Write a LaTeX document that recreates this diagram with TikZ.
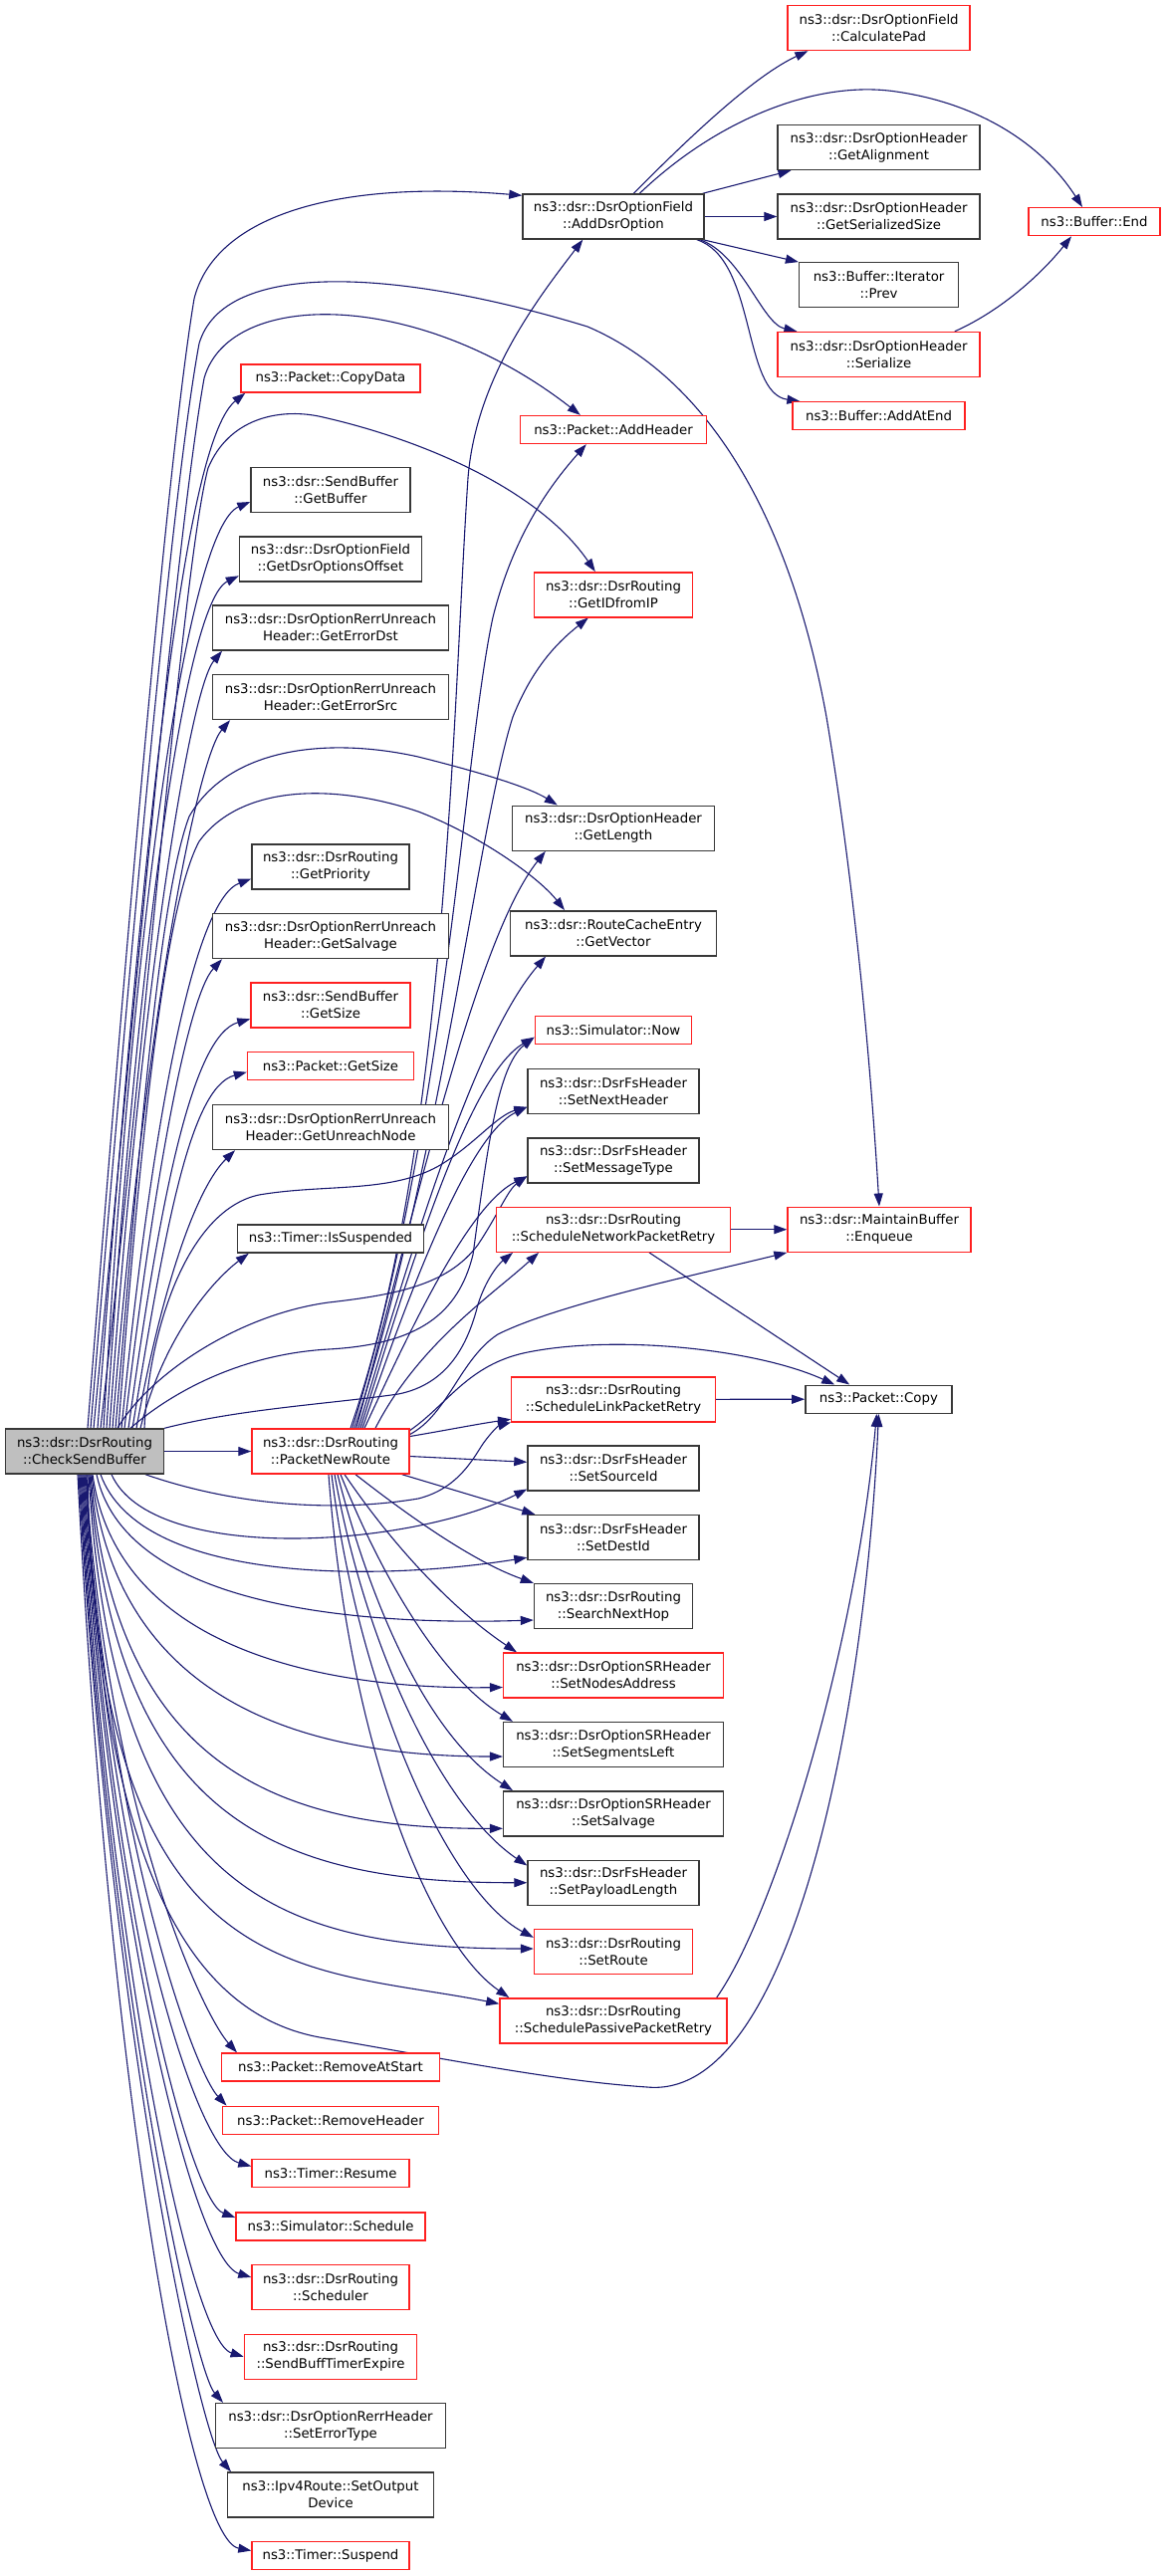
\documentclass[tikz,border=0pt]{standalone}
\usepackage{fontspec}
\setmainfont{DejaVu Sans}
\usetikzlibrary{arrows.meta}
\definecolor{edgecol}{HTML}{191970}
\definecolor{redb}{HTML}{FF2020}
\definecolor{blackb}{HTML}{383838}
\definecolor{greyfill}{HTML}{BFBFBF}
\pgfdeclarelayer{bg}
\pgfsetlayers{bg,main}
\newcommand\nd[7]{\node[#6, minimum width=#4pt, minimum height=#5pt] (#1) at (#2,-#3) {#7};}
\begin{document}
\begin{tikzpicture}[x=1pt,y=1pt,
  font=\fontsize{13.3}{17}\selectfont,
  box/.style={rectangle, draw=blackb, line width=1.4pt, inner sep=0pt, align=center, fill=white},
  rbox/.style={box, draw=redb},
  gbox/.style={box, fill=greyfill},
  e/.style={draw=edgecol, line width=1.1pt, -{Triangle[length=13pt,width=9pt]}}]
\begin{pgfonlayer}{bg}
\fill[white] (0,0) rectangle (1171,-2587);
\end{pgfonlayer}
\useasboundingbox (0,0) rectangle (1171,-2587);
% ---------- nodes ----------
\nd{root}{85}{1457.5}{159}{45}{gbox}{ns3::dsr::DsrRouting\\::CheckSendBuffer}
\nd{pnr}{332}{1457.5}{158}{45}{rbox}{ns3::dsr::DsrRouting\\::PacketNewRoute}
% left column
\nd{copydata}{332}{380}{180}{28}{rbox}{ns3::Packet::CopyData}
\nd{getbuffer}{332}{492}{160}{45}{box}{ns3::dsr::SendBuffer\\::GetBuffer}
\nd{getdsroff}{332}{561.3}{183}{45}{box}{ns3::dsr::DsrOptionField\\::GetDsrOptionsOffset}
\nd{errdst}{332}{630.5}{236.5}{45}{box}{ns3::dsr::DsrOptionRerrUnreach\\Header::GetErrorDst}
\nd{errsrc}{332}{700}{236.5}{45}{box}{ns3::dsr::DsrOptionRerrUnreach\\Header::GetErrorSrc}
\nd{getprio}{332}{870.5}{158}{45}{box}{ns3::dsr::DsrRouting\\::GetPriority}
\nd{getsalv}{332}{940}{236.5}{45}{box}{ns3::dsr::DsrOptionRerrUnreach\\Header::GetSalvage}
\nd{sbgetsize}{332}{1009.3}{160}{45}{rbox}{ns3::dsr::SendBuffer\\::GetSize}
\nd{pgetsize}{332}{1070.7}{167}{28}{rbox}{ns3::Packet::GetSize}
\nd{unreach}{332}{1132}{236.5}{45}{box}{ns3::dsr::DsrOptionRerrUnreach\\Header::GetUnreachNode}
\nd{issusp}{332}{1244}{187}{28}{box}{ns3::Timer::IsSuspended}
\nd{rmstart}{332}{2076}{218.6}{28}{rbox}{ns3::Packet::RemoveAtStart}
\nd{rmhdr}{332}{2129.3}{217.5}{28}{rbox}{ns3::Packet::RemoveHeader}
\nd{resume}{332}{2182.5}{158}{28}{rbox}{ns3::Timer::Resume}
\nd{schedule}{332}{2236}{190}{28}{rbox}{ns3::Simulator::Schedule}
\nd{scheduler}{332}{2297}{158}{45}{rbox}{ns3::dsr::DsrRouting\\::Scheduler}
\nd{sbte}{332}{2366.7}{173.4}{45}{rbox}{ns3::dsr::DsrRouting\\::SendBuffTimerExpire}
\nd{seterr}{332}{2436}{230.6}{45}{box}{ns3::dsr::DsrOptionRerrHeader\\::SetErrorType}
\nd{setout}{332}{2505.5}{206.6}{45}{box}{ns3::Ipv4Route::SetOutput\\Device}
\nd{suspend}{332}{2566.5}{158}{28}{rbox}{ns3::Timer::Suspend}
% middle column
\nd{adddsr}{616}{217.5}{182}{45}{box}{ns3::dsr::DsrOptionField\\::AddDsrOption}
\nd{addhdr}{616}{431.5}{187}{28}{rbox}{ns3::Packet::AddHeader}
\nd{getid}{616}{597.3}{159}{45}{rbox}{ns3::dsr::DsrRouting\\::GetIDfromIP}
\nd{getlen}{616}{831.7}{203}{45}{box}{ns3::dsr::DsrOptionHeader\\::GetLength}
\nd{getvec}{616}{937.3}{206.5}{45}{box}{ns3::dsr::RouteCacheEntry\\::GetVector}
\nd{now}{616}{1034.7}{157.5}{28}{rbox}{ns3::Simulator::Now}
\nd{setnext}{616}{1095.7}{172}{45}{box}{ns3::dsr::DsrFsHeader\\::SetNextHeader}
\nd{setmsg}{616}{1165.3}{172}{45}{box}{ns3::dsr::DsrFsHeader\\::SetMessageType}
\nd{snpr}{616}{1234.7}{234.5}{45}{rbox}{ns3::dsr::DsrRouting\\::ScheduleNetworkPacketRetry}
\nd{slpr}{616}{1405.3}{204.5}{45}{rbox}{ns3::dsr::DsrRouting\\::ScheduleLinkPacketRetry}
\nd{setsrc}{616}{1474.3}{172}{45}{box}{ns3::dsr::DsrFsHeader\\::SetSourceId}
\nd{setdst}{616}{1544}{172}{45}{box}{ns3::dsr::DsrFsHeader\\::SetDestId}
\nd{search}{616}{1613}{159}{45}{box}{ns3::dsr::DsrRouting\\::SearchNextHop}
\nd{setnodes}{616}{1682.5}{220.7}{45}{rbox}{ns3::dsr::DsrOptionSRHeader\\::SetNodesAddress}
\nd{setseg}{616}{1752}{220.7}{45}{box}{ns3::dsr::DsrOptionSRHeader\\::SetSegmentsLeft}
\nd{setsalv}{616}{1821.3}{220.7}{45}{box}{ns3::dsr::DsrOptionSRHeader\\::SetSalvage}
\nd{setpay}{616}{1890.7}{172}{45}{box}{ns3::dsr::DsrFsHeader\\::SetPayloadLength}
\nd{setroute}{616}{1960}{159}{45}{rbox}{ns3::dsr::DsrRouting\\::SetRoute}
\nd{spassive}{616}{2029.3}{228}{45}{rbox}{ns3::dsr::DsrRouting\\::SchedulePassivePacketRetry}
% right column
\nd{calcpad}{882.6}{28}{183}{45}{rbox}{ns3::dsr::DsrOptionField\\::CalculatePad}
\nd{getalign}{882.6}{148}{203}{45}{box}{ns3::dsr::DsrOptionHeader\\::GetAlignment}
\nd{getser}{882.6}{217.5}{203}{45}{box}{ns3::dsr::DsrOptionHeader\\::GetSerializedSize}
\nd{prev}{882.6}{286.3}{160}{45}{box}{ns3::Buffer::Iterator\\::Prev}
\nd{serialize}{882.6}{356}{203}{45}{rbox}{ns3::dsr::DsrOptionHeader\\::Serialize}
\nd{addatend}{882.6}{417.7}{173}{28}{rbox}{ns3::Buffer::AddAtEnd}
\nd{bufend}{1099}{222.7}{132}{28}{rbox}{ns3::Buffer::End}
\nd{enqueue}{883}{1234.7}{184}{45}{rbox}{ns3::dsr::MaintainBuffer\\::Enqueue}
\nd{copy}{882.4}{1405.2}{147}{28}{box}{ns3::Packet::Copy}
% ---------- edges ----------
\begin{pgfonlayer}{bg}
% root upward, long arcs
\draw[e] ([xshift=3pt]root.north) .. controls (130,-900) and (170,-450) .. (195,-300) .. controls (215,-220) and (330,-180) .. ([yshift=-2pt]adddsr.north west);
\draw[e] ([xshift=6pt]root.north) .. controls (135,-900) and (175,-480) .. (200,-345) .. controls (225,-260) and (400,-270) .. (590,-328) .. controls (700,-375) and (790,-500) .. (830,-720) .. controls (860,-900) and (875,-1080) .. (enqueue.north);
\draw[e] ([xshift=9pt]root.north) .. controls (140,-950) and (180,-520) .. (205,-380) .. controls (230,-290) and (420,-290) .. ([xshift=61pt]addhdr.north west);
\draw[e] ([xshift=13pt]root.north) .. controls (150,-750) and (190,-440) .. ([xshift=5pt]copydata.south west);
\draw[e] ([xshift=16pt]root.north) .. controls (150,-1000) and (185,-560) .. (209,-470) .. controls (230,-420) and (280,-410) .. (320,-418) .. controls (420,-440) and (540,-490) .. ([xshift=62pt]getid.north west);
\draw[e] ([xshift=19pt]root.north) .. controls (135,-900) and (190,-530) .. ([yshift=-12pt]getbuffer.west);
\draw[e] ([xshift=22pt]root.north) .. controls (137,-964) and (185,-605) .. ([yshift=-17pt]getdsroff.west);
\draw[e] ([xshift=25pt]root.north) .. controls (140,-1005) and (190,-693) .. ([xshift=10pt]errdst.south west);
\draw[e] ([xshift=28pt]root.north) .. controls (143,-1043) and (197,-763) .. ([xshift=18pt]errsrc.south west);
\draw[e] ([xshift=31pt]root.north) .. controls (140,-1150) and (160,-900) .. (190,-820) .. controls (230,-750) and (330,-740) .. (420,-760) .. controls (480,-775) and (530,-790) .. ([xshift=46pt]getlen.north west);
\draw[e] ([xshift=34pt]root.north) .. controls (140,-1150) and (165,-910) .. (200,-845) .. controls (240,-790) and (330,-785) .. (420,-815) .. controls (480,-838) and (540,-880) .. ([xshift=55pt]getvec.north west);
\draw[e] ([xshift=37pt]root.north) .. controls (150,-1150) and (192,-905) .. ([yshift=-12pt]getprio.west);
\draw[e] ([xshift=40pt]root.north) .. controls (155,-1180) and (189,-1000) .. ([xshift=10pt]getsalv.south west);
\draw[e] ([xshift=44pt]root.north) .. controls (160,-1210) and (192,-1040) .. ([yshift=-14pt]sbgetsize.west);
\draw[e] ([xshift=48pt]root.north) .. controls (165,-1240) and (190,-1092) .. ([yshift=-6pt]pgetsize.west);
\draw[e] ([xshift=52pt]root.north) .. controls (165,-1280) and (200,-1190) .. ([xshift=23pt]unreach.south west);
\draw[e] ([xshift=56pt]root.north) .. controls (165,-1340) and (215,-1285) .. ([xshift=12pt]issusp.south west);
% root to middle (upper)
\draw[e] ([xshift=60pt]root.north) .. controls (150,-1330) and (190,-1215) .. (260,-1200) .. controls (330,-1188) and (400,-1200) .. (450,-1165) .. controls (480,-1145) and (500,-1120) .. ([yshift=-16pt]setnext.west);
\draw[e] ([xshift=33pt]root.north) .. controls (150,-1380) and (240,-1320) .. (330,-1308) .. controls (400,-1300) and (450,-1290) .. (480,-1250) .. controls (500,-1220) and (510,-1195) .. ([yshift=-16pt]setmsg.west);
\draw[e] ([xshift=46pt]root.north) .. controls (170,-1400) and (240,-1360) .. (330,-1355) .. controls (420,-1350) and (460,-1320) .. (475,-1260) .. controls (490,-1150) and (500,-1070) .. ([yshift=-7pt]now.west);
\draw[e] (root.north east) .. controls (240,-1415) and (330,-1410) .. (400,-1400) .. controls (450,-1390) and (470,-1350) .. (480,-1310) .. controls (488,-1285) and (500,-1270) .. ([xshift=17pt]snpr.south west);
\draw[e] (root.east) -- (pnr.west);
% root to middle (lower)
\draw[e] ([xshift=61pt]root.south) .. controls (230,-1510) and (330,-1520) .. (420,-1505) .. controls (460,-1495) and (475,-1465) .. (485,-1450) .. controls (492,-1440) and (500,-1432) .. (slpr.south west);
\draw[e] ([xshift=27pt]root.south) .. controls (152,-1571) and (410,-1555) .. ([yshift=2pt]setsrc.south west);
\draw[e] ([xshift=16pt]root.south) .. controls (141,-1591) and (380,-1588) .. ([yshift=3pt]setdst.south west);
\draw[e] ([xshift=12pt]root.south) .. controls (127,-1620) and (380,-1632) .. ([yshift=-14pt]search.west);
\draw[e] ([xshift=8pt]root.south) .. controls (118,-1661) and (336,-1697) .. ([yshift=-12pt]setnodes.west);
\draw[e] ([xshift=7pt]root.south) .. controls (117,-1710) and (306,-1764) .. ([yshift=-12pt]setseg.west);
\draw[e] ([xshift=6pt]root.south) .. controls (116,-1781) and (286,-1837) .. ([yshift=-15pt]setsalv.west);
\draw[e] ([xshift=5pt]root.south) .. controls (115,-1830) and (280,-1891) .. (setpay.west);
\draw[e] ([xshift=4pt]root.south) .. controls (114,-1900) and (276,-1957) .. ([yshift=3pt]setroute.west);
\draw[e] ([xshift=3pt]root.south) .. controls (98,-2001) and (302,-1973) .. ([yshift=17pt]spassive.west);
\draw[e] ([xshift=2pt]root.south) .. controls (100,-1850) and (180,-2020) .. (321,-2046) .. controls (460,-2070) and (560,-2090) .. (650,-2096) .. controls (800,-2110) and (870,-1700) .. (copy.south);
% root downward left column
\draw[e] ([xshift=1pt]root.south) .. controls (110,-1830) and (205,-2025) .. ([xshift=16pt]rmstart.north west);
\draw[e] (root.south) .. controls (110,-1850) and (195,-2080) .. ([xshift=5pt]rmhdr.north west);
\draw[e] ([xshift=-1pt]root.south) .. controls (110,-1880) and (195,-2160) .. ([yshift=7pt]resume.west);
\draw[e] ([xshift=-2pt]root.south) .. controls (110,-1900) and (190,-2210) .. ([yshift=9pt]schedule.west);
\draw[e] ([xshift=-3pt]root.south) .. controls (110,-1930) and (195,-2270) .. ([yshift=10pt]scheduler.west);
\draw[e] ([xshift=-4pt]root.south) .. controls (110,-1960) and (190,-2350) .. (sbte.west);
\draw[e] ([xshift=-5pt]root.south) .. controls (110,-2000) and (195,-2380) .. ([xshift=8pt]seterr.north west);
\draw[e] ([xshift=-6pt]root.south) .. controls (110,-2030) and (200,-2445) .. ([xshift=4pt]setout.north west);
\draw[e] ([xshift=-7pt]root.south) .. controls (110,-2100) and (190,-2550) .. ([yshift=5pt]suspend.west);
% PacketNewRoute upward
\draw[e] ([xshift=20pt]pnr.north) .. controls (450,-1150) and (455,-700) .. (470,-480) .. controls (478,-380) and (540,-300) .. ([xshift=61pt]adddsr.south west);
\draw[e] ([xshift=22pt]pnr.north) .. controls (450,-1120) and (465,-760) .. (495,-620) .. controls (515,-540) and (550,-490) .. ([xshift=67pt]addhdr.south west);
\draw[e] ([xshift=24pt]pnr.north) .. controls (440,-1180) and (480,-830) .. (515,-720) .. controls (535,-670) and (560,-645) .. ([xshift=55pt]getid.south west);
\draw[e] ([xshift=26pt]pnr.north) .. controls (420,-1200) and (480,-940) .. ([xshift=34pt]getlen.south west);
\draw[e] ([xshift=28pt]pnr.north) .. controls (420,-1230) and (480,-1040) .. ([xshift=36pt]getvec.south west);
\draw[e] ([xshift=30pt]pnr.north) .. controls (410,-1280) and (470,-1080) .. ([yshift=-7pt]now.west);
\draw[e] ([xshift=32pt]pnr.north) .. controls (410,-1300) and (470,-1140) .. ([yshift=-16pt]setnext.west);
\draw[e] ([xshift=34pt]pnr.north) .. controls (410,-1340) and (470,-1210) .. ([yshift=-16pt]setmsg.west);
\draw[e] ([xshift=45pt]pnr.north) .. controls (420,-1350) and (495,-1300) .. ([xshift=43pt]snpr.south west);
\draw[e] ([yshift=17pt]pnr.east) .. controls (450,-1420) and (462,-1365) .. (500,-1340) .. controls (560,-1310) and (700,-1280) .. (enqueue.south west);
\draw[e] ([yshift=21pt]pnr.east) .. controls (450,-1410) and (470,-1370) .. (530,-1358) .. controls (620,-1340) and (760,-1355) .. ([xshift=30pt]copy.north west);
\draw[e] ([yshift=15pt]pnr.east) .. controls (450,-1436) and (480,-1430) .. ([yshift=-20pt]slpr.west);
% PacketNewRoute downward
\draw[e] ([yshift=-5pt]pnr.east) -- ([yshift=6pt]setsrc.west);
\draw[e] ([xshift=-8pt]pnr.south east) -- ([xshift=8pt]setdst.north west);
\draw[e] ([xshift=25pt]pnr.south) .. controls (420,-1530) and (480,-1570) .. (search.north west);
\draw[e] ([xshift=14pt]pnr.south) .. controls (400,-1560) and (460,-1620) .. ([xshift=14pt]setnodes.north west);
\draw[e] ([xshift=10pt]pnr.south) .. controls (390,-1600) and (450,-1690) .. ([xshift=10pt]setseg.north west);
\draw[e] ([xshift=7pt]pnr.south) .. controls (380,-1640) and (440,-1750) .. ([xshift=10pt]setsalv.north west);
\draw[e] ([xshift=4pt]pnr.south) .. controls (370,-1670) and (450,-1820) .. ([yshift=-6pt]setpay.north west);
\draw[e] ([xshift=1pt]pnr.south) .. controls (360,-1700) and (450,-1900) .. ([yshift=-9pt]setroute.north west);
\draw[e] ([xshift=-2pt]pnr.south) .. controls (350,-1750) and (430,-1950) .. ([xshift=10pt]spassive.north west);
% AddDsrOption calls
\draw[e] ([xshift=112pt]adddsr.north west) .. controls (700,-130) and (760,-75) .. ([xshift=21pt]calcpad.south west);
\draw[e] ([xshift=118pt]adddsr.north west) .. controls (720,-120) and (820,-80) .. (900,-92) .. controls (990,-105) and (1050,-150) .. ([xshift=-12pt]bufend.north);
\draw[e] ([xshift=-2pt]adddsr.north east) -- ([xshift=14pt]getalign.south west);
\draw[e] (adddsr.east) -- (getser.west);
\draw[e] ([xshift=-2pt]adddsr.south east) -- (prev.north west);
\draw[e] ([xshift=-5pt]adddsr.south east) .. controls (745,-255) and (765,-325) .. ([xshift=20pt]serialize.north west);
\draw[e] ([xshift=-8pt]adddsr.south east) .. controls (760,-260) and (745,-395) .. ([xshift=8pt]addatend.north west);
\draw[e] ([xshift=-26pt]serialize.north east) .. controls (1010,-310) and (1050,-270) .. ([xshift=-23pt]bufend.south);
% retry functions
\draw[e] (snpr.east) -- (enqueue.west);
\draw[e] ([xshift=36pt]snpr.south) -- ([xshift=45pt]copy.north west);
\draw[e] (slpr.east) -- (copy.west);
\draw[e] ([xshift=-11pt]spassive.north east) .. controls (780,-1920) and (860,-1650) .. ([xshift=-2pt]copy.south);
\end{pgfonlayer}
\end{tikzpicture}
\end{document}
